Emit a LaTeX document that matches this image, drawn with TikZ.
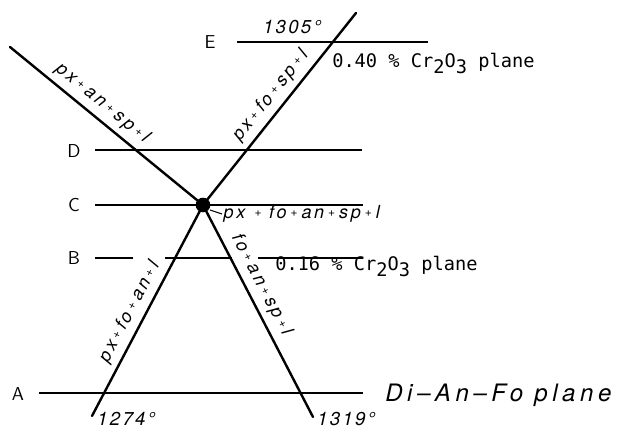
\documentclass[tikz,border=0pt]{standalone}
\usepackage{fontspec}
\newfontfamily\platefont{DejaVu Sans Mono}
\newfontfamily\techfont{TeX Gyre Heros}
\usetikzlibrary{calc}

\newcommand{\lowsub}[1]{\raisebox{-0.5ex}{#1}}
\newcommand{\pp}{\hspace{0.22em}\raisebox{0.25ex}{\fontsize{9}{9}\selectfont+}\hspace{0.22em}}

\tikzset{
  phase line/.style={
    draw=black,
    line width=1.8pt,
    line cap=round
  }
}
\tikzset{
  plane line/.style={
    draw=black,
    line width=1.3pt
  }
}
\tikzset{
  plane letter/.style={
    inner sep=0pt,
    font=\sffamily\fontsize{14}{16}\selectfont
  }
}
\tikzset{
  phase label/.style={
    sloped,
    inner sep=1pt,
    font=\techfont\itshape\fontsize{13.5}{15}\selectfont\addfontfeatures{LetterSpace=16}
  }
}
\tikzset{
  temp label/.style={
    inner sep=0pt,
    font=\techfont\itshape\fontsize{14}{16}\selectfont\addfontfeatures{LetterSpace=12}
  }
}
\tikzset{
  plane label/.style={
    anchor=base west,
    inner sep=0pt,
    font=\platefont\fontsize{14}{16}\selectfont
  }
}

\begin{document}
\begin{tikzpicture}[x=0.75pt,y=0.75pt]

    \useasboundingbox (0,0) rectangle (622,428);

    % ------------------------------------------------------------
    % Points
    % ------------------------------------------------------------

    \coordinate (junction) at (203,223);
    \coordinate (upleft)   at (10,381);
    \coordinate (upright)  at (356,415);
    \coordinate (lowleft)  at (92,12);
    \coordinate (lowright) at (313,11);

    \node[circle, fill=black, inner sep=0pt, minimum size=11pt] (eutectic) at (junction) {};

    % ------------------------------------------------------------
    % Plane sections
    % ------------------------------------------------------------

    \coordinate (E1) at (237,386);  \coordinate (E2) at (428,386);
    \coordinate (D1) at (95,278);   \coordinate (D2) at (362,278);
    \coordinate (C1) at (95,223);   \coordinate (C2) at (363,223);
    \coordinate (B1) at (95,170);   \coordinate (B2) at (133,170);
    \coordinate (B3) at (165,170);  \coordinate (B4) at (232,170);
    \coordinate (B5) at (258,170);  \coordinate (B6) at (363,170);
    \coordinate (A1) at (39,35);    \coordinate (A2) at (363,35);

    \draw[plane line] (E1) -- (E2);
    \draw[plane line] (D1) -- (D2);
    \draw[plane line] (C1) -- (C2);
    \draw[plane line] (B1) -- (B2);
    \draw[plane line] (B3) -- (B4);
    \draw[plane line] (B5) -- (B6);
    \draw[plane line] (A1) -- (A2);

    \node[plane letter] (letterE) at (210,386) {E};
    \node[plane letter] (letterD) at (74,277) {D};
    \node[plane letter] (letterC) at (74,223) {C};
    \node[plane letter] (letterB) at (74,170) {B};
    \node[plane letter] (letterA) at (18,34) {A};

    % ------------------------------------------------------------
    % Field boundaries
    % ------------------------------------------------------------

    \draw[phase line]
      (upleft)
      --
      node[phase label, above=3pt, pos=0.43] {px\pp an\pp sp\pp l}
      (junction);

    \draw[phase line]
      (junction)
      --
      node[phase label, above=3pt, pos=0.52] {px\pp fo\pp sp\pp l}
      (upright);

    \draw[phase line]
      (lowleft)
      --
      node[phase label, above=3pt, pos=0.46] {px\pp fo\pp an\pp l}
      (junction);

    \draw[phase line]
      (junction)
      --
      node[phase label, above=3pt, pos=0.41] {fo\pp an\pp sp\pp l}
      (lowright);

    % ------------------------------------------------------------
    % Labels
    % ------------------------------------------------------------

    \node[temp label] (t1305) at (292,401) {1305\textdegree};
    \node[temp label, anchor=base west] (t1274) at (97,2) {1274\textdegree};
    \node[temp label, anchor=base west] (t1319) at (317,2) {1319\textdegree};

    \node[plane label] (cr40) at (332,360)
    {0.40 \% Cr\lowsub{2}O\lowsub{3} plane};

    \node[plane label] (cr16) at (275,157)
    {0.16 \% Cr\lowsub{2}O\lowsub{3} plane};

    \node[anchor=base west, inner sep=0pt,
      font=\techfont\itshape\fontsize{18}{20}\selectfont\addfontfeatures{LetterSpace=19}] (dianfo) at (385,26)
    {Di\textendash An\textendash Fo plane};

    \coordinate (tick) at (222,214);
    \draw[line width=0.8pt] (210,218) -- (tick);
    \node[anchor=west, inner sep=1pt,
      font=\techfont\itshape\fontsize{13.5}{15}\selectfont\addfontfeatures{LetterSpace=15}] (fivephase) at (tick)
    {px\hspace{0.3em}\pp\hspace{0.2em}fo\pp an\pp sp\pp l};

    \end{tikzpicture}
\end{document}
